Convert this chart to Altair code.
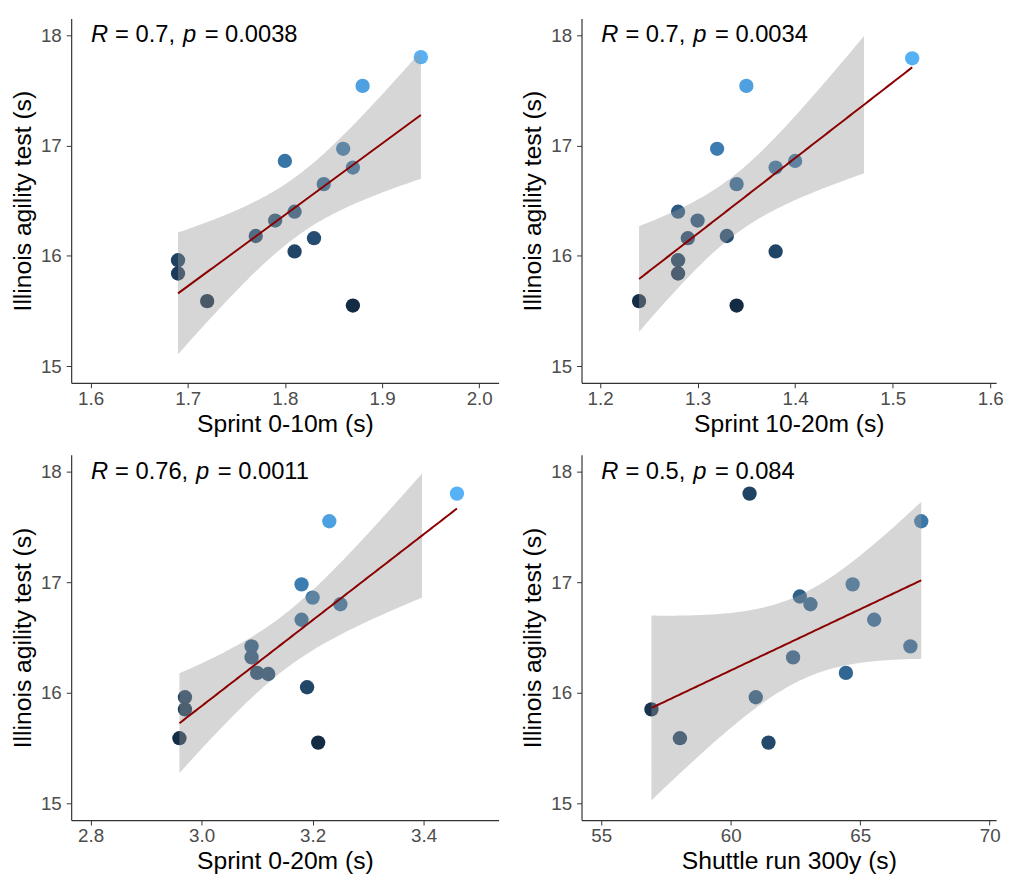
import altair as alt
import numpy as np
import pandas as pd

Y_TITLE = "Illinois agility test (s)"

# Panel 1: Sprint 0-10m
x1 = [1.94, 1.88, 1.80, 1.86, 1.87, 1.84, 1.81, 1.79, 1.77, 1.83, 1.81, 1.69, 1.69, 1.72, 1.87]
y1 = [17.80, 17.54, 16.86, 16.97, 16.80, 16.65, 16.40, 16.32, 16.18, 16.16, 16.04, 15.96, 15.84, 15.59, 15.55]
# Panel 2: Sprint 10-20m
x2 = [1.52, 1.35, 1.32, 1.40, 1.38, 1.34, 1.28, 1.30, 1.29, 1.33, 1.38, 1.28, 1.28, 1.24, 1.34]
y2 = [17.79, 17.54, 16.97, 16.86, 16.80, 16.65, 16.40, 16.32, 16.16, 16.18, 16.04, 15.96, 15.84, 15.59, 15.55]
# Panel 3: Sprint 0-20m
x3 = [3.46, 3.23, 3.18, 3.20, 3.25, 3.18, 3.09, 3.09, 3.10, 3.12, 3.19, 2.97, 2.97, 2.96, 3.21]
y3 = [17.80, 17.55, 16.98, 16.86, 16.80, 16.66, 16.42, 16.32, 16.18, 16.17, 16.05, 15.96, 15.85, 15.59, 15.55]
# Panel 4: Shuttle run 300y
x4 = [60.73, 67.36, 64.71, 62.67, 63.08, 65.54, 66.94, 62.41, 64.45, 60.97, 56.94, 58.04, 61.46]
y4 = [17.80, 17.55, 16.98, 16.87, 16.80, 16.66, 16.42, 16.32, 16.18, 15.96, 15.85, 15.59, 15.55]
shade4 = [16.0, 16.9, 16.8, 16.5, 16.6, 16.7, 16.7, 16.5, 16.6, 16.4, 15.7, 16.0, 16.1]

labels_r = ["0.7", "0.7", "0.76", "0.5"]
labels_p = ["0.0038", "0.0034", "0.0011", "0.084"]
x_titles = ["Sprint 0-10m (s)", "Sprint 10-20m (s)", "Sprint 0-20m (s)", "Shuttle run 300y (s)"]
x_ticks = [[1.6, 1.7, 1.8, 1.9, 2.0], [1.2, 1.3, 1.4, 1.5, 1.6],
           [2.8, 3.0, 3.2, 3.4], [55, 60, 65, 70]]
x_domains = [[1.58, 2.02], [1.181, 1.606], [2.765, 3.535], [54.24, 70.25]]
x_formats = [".1f", ".1f", ".1f", "d"]
y_ticks = [15, 16, 17, 18]
y_limits = [15, 18]
t_crit = {13: 2.160, 11: 2.201}

FONT = "Liberation Sans"
FS = 24
WID = {c: 556 for c in "0123456789"}
WID.update({".": 278, ",": 278, " ": 278, "=": 584})


def tw(s):
    return sum(WID[c] for c in s) * FS / 1000.0


def text_piece(s, xpos, italic):
    d = pd.DataFrame({"t": [s]})
    return alt.Chart(d).mark_text(
        align="left", baseline="alphabetic", font=FONT, fontSize=FS,
        fontStyle="italic" if italic else "normal", color="black"
    ).encode(text="t:N", x=alt.value(xpos), y=alt.value(24))


def panel(i, xs, ys, shades, width, height):
    df = pd.DataFrame({"x": xs, "y": ys, "shade": shades})
    xa = np.array(xs, dtype=float)
    ya = np.array(ys, dtype=float)
    n = len(xa)
    b, a = np.polyfit(xa, ya, 1)
    resid = ya - (a + b * xa)
    s = np.sqrt(np.sum(resid ** 2) / (n - 2))
    sxx = np.sum((xa - xa.mean()) ** 2)
    grid = np.linspace(xa.min(), xa.max(), 120)
    fit = a + b * grid
    se = s * np.sqrt(1.0 / n + (grid - xa.mean()) ** 2 / sxx)
    tc = t_crit[n - 2]
    band = pd.DataFrame({"x": grid, "lo": fit - tc * se, "hi": fit + tc * se, "fit": fit})
    # like ggplot's scale limits: ribbon rows outside the limits are dropped
    band_in = band[(band["hi"] <= y_limits[1]) & (band["lo"] >= y_limits[0])]

    xscale = alt.Scale(domain=x_domains[i], nice=False, zero=False)
    yscale = alt.Scale(domain=[14.85, 18.15], nice=False, zero=False)
    xaxis = alt.Axis(values=x_ticks[i], format=x_formats[i], title=x_titles[i])
    yaxis = alt.Axis(values=y_ticks, format="d", title=Y_TITLE)

    pts = alt.Chart(df).mark_circle(size=210, opacity=1).encode(
        x=alt.X("x:Q", scale=xscale, axis=xaxis),
        y=alt.Y("y:Q", scale=yscale, axis=yaxis),
        color=alt.Color("shade:Q", legend=None,
                        scale=alt.Scale(domain=[15.55, 17.8], range=["#132B43", "#56B1F7"],
                                        interpolate="lab")),
    )
    area = alt.Chart(band_in).mark_area(color="#999999", opacity=0.4, clip=True).encode(
        x=alt.X("x:Q", scale=xscale, axis=xaxis),
        y=alt.Y("lo:Q", scale=yscale, axis=yaxis),
        y2="hi:Q",
    )
    line = alt.Chart(band).mark_line(color="#8B0000", strokeWidth=2, clip=True).encode(
        x=alt.X("x:Q", scale=xscale, axis=xaxis),
        y=alt.Y("fit:Q", scale=yscale, axis=yaxis),
    )
    x_R = 20
    x_eq1 = 44.5
    s1 = "= " + labels_r[i] + ","
    x_p = x_eq1 + tw(s1) + 8
    x_eq2 = x_p + 22
    texts = [
        text_piece("R", x_R, True),
        text_piece(s1, x_eq1, False),
        text_piece("p", x_p, True),
        text_piece("= " + labels_p[i], x_eq2, False),
    ]
    return alt.layer(pts, area, line, *texts).properties(width=width, height=height)


p1 = panel(0, x1, y1, y1, 433, 369)
p2 = panel(1, x2, y2, y2, 420, 369)
p3 = panel(2, x3, y3, y3, 433, 370)
p4 = panel(3, x4, y4, shade4, 420, 370)

chart = alt.vconcat(
    alt.hconcat(p1, p2, spacing=22),
    alt.hconcat(p3, p4, spacing=22),
    spacing=19,
).properties(
    padding={"left": 2, "top": 5, "right": 0, "bottom": 0}
).configure_view(stroke=None).configure_axis(
    grid=False,
    domainColor="#333333",
    domainWidth=1.2,
    tickColor="#333333",
    tickSize=5,
    labelFont=FONT,
    labelFontSize=19,
    labelColor="#4D4D4D",
    titleFont=FONT,
    titleFontSize=25,
    titleFontWeight="normal",
    titleColor="black",
).configure_axisX(
    labelPadding=2,
    titlePadding=3,
).configure_axisY(
    labelPadding=5,
    titlePadding=5,
)

chart.save("out.html", embed_options={"renderer": "svg", "actions": False})
